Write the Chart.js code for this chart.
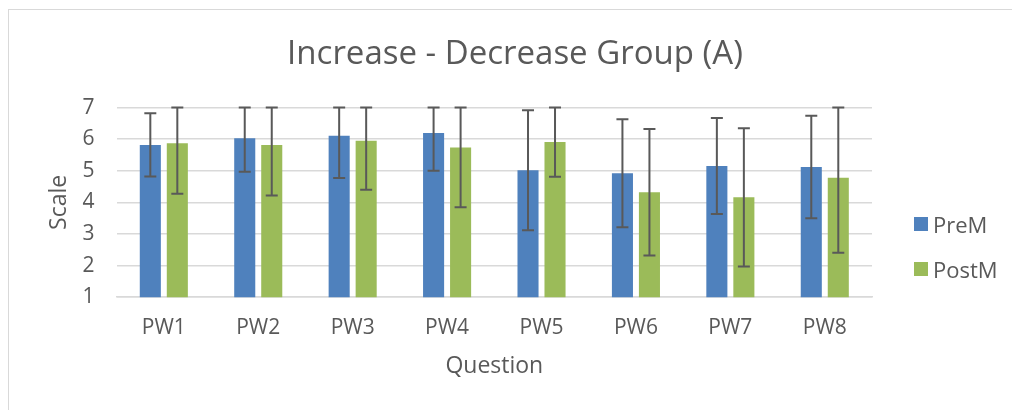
<!DOCTYPE html>
<html>
<head>
<meta charset="utf-8">
<script src="https://cdn.jsdelivr.net/npm/chart.js@4.4.1/dist/chart.umd.min.js"></script>
<style>
  html, body { margin: 0; padding: 0; background: #fff; overflow: hidden; }
  #frame { position: absolute; left: 8px; top: 9px; width: 1100px; height: 500px; border: 1px solid #d9d9d9; }
  #wrap { position: absolute; left: 0; top: 0; width: 1012px; height: 410px; }
  #legend { position: absolute; left: 914px; top: 211px; font: 22px "Open Sans", sans-serif; color: #595959; }
  #legend div { height: 45px; display: flex; align-items: flex-start; }
  #legend span.box { display: inline-block; width: 14px; height: 14px; margin: 6px 5px 0 0; }
  #legend span.txt { line-height: 26px; }
</style>
</head>
<body>
<div id="frame"></div>
<div id="wrap"><canvas id="myChart" width="1012" height="410"></canvas></div>
<div id="legend"></div>
<script>
"use strict";

// ========== DATA ==========
var questions = ["PW1", "PW2", "PW3", "PW4", "PW5", "PW6", "PW7", "PW8"];
var preM = [5.82, 6.03, 6.11, 6.20, 5.02, 4.92, 5.15, 5.12];
var preSd = [1.00, 1.06, 1.34, 1.20, 1.90, 1.71, 1.52, 1.62];
var postM = [5.87, 5.82, 5.95, 5.74, 5.91, 4.32, 4.16, 4.78];
var postSd = [1.60, 1.60, 1.55, 1.89, 1.10, 2.00, 2.19, 2.37];
var yTicks = [1, 2, 3, 4, 5, 6, 7];

var textColor = "#595959";
var fontName = "'Open Sans', sans-serif";

// ========== ERROR BARS ==========
var errorBars = {
  id: "errorBars",
  afterDatasetsDraw(chart) {
    const ctx = chart.ctx;
    const y = chart.scales.y;
    ctx.save();
    ctx.strokeStyle = "#595959";
    ctx.lineWidth = 2;
    chart.data.datasets.forEach((ds, di) => {
      const meta = chart.getDatasetMeta(di);
      meta.data.forEach((bar, i) => {
        const v = ds.data[i], sd = ds.sd[i];
        const hi = y.getPixelForValue(Math.min(v + sd, y.max));
        const lo = y.getPixelForValue(Math.max(v - sd, y.min));
        ctx.beginPath();
        ctx.moveTo(bar.x, hi); ctx.lineTo(bar.x, lo);
        ctx.moveTo(bar.x - 6, hi); ctx.lineTo(bar.x + 6, hi);
        ctx.moveTo(bar.x - 6, lo); ctx.lineTo(bar.x + 6, lo);
        ctx.stroke();
      });
    });
    ctx.restore();
  }
};

// ========== CHART ==========
var chartCanvas = document.getElementById("myChart");
var chart = new Chart(chartCanvas.getContext("2d"), {
  type: "bar",
  data: {
    labels: questions,
    datasets: [
      { label: "PreM", data: preM, sd: preSd, backgroundColor: "#4f81bd" },
      { label: "PostM", data: postM, sd: postSd, backgroundColor: "#9bbb59" }
    ]
  },
  options: {
    responsive: false,
    animation: false,
    categoryPercentage: 0.572,
    barPercentage: 0.78,
    layout: { padding: { left: 18, right: 0, top: 0, bottom: 0 } },
    plugins: {
      legend: { display: false },
      tooltip: { enabled: false },
      title: {
        display: true,
        text: "Increase - Decrease Group (A)",
        color: textColor,
        font: { family: fontName, size: 33, weight: "normal" },
        padding: { top: 35, bottom: 33 }
      }
    },
    scales: {
      x: {
        grid: { display: false, drawTicks: false },
        border: { color: "#d9d9d9", width: 1.5 },
        ticks: { color: textColor, font: { family: fontName, size: 21 }, padding: 18 },
        title: {
          display: true, text: "Question", color: textColor,
          font: { family: fontName, size: 23 }, padding: { top: -6, bottom: 30 }
        }
      },
      y: {
        min: 1,
        max: 7,
        afterBuildTicks: scale => { scale.ticks = yTicks.map(v => ({ value: v })); },
        grid: { color: "#d9d9d9", lineWidth: 1.5, drawTicks: false },
        border: { display: false },
        ticks: { color: textColor, font: { family: fontName, size: 21 }, padding: 22 },
        title: {
          display: true, text: "Scale", color: textColor,
          font: { family: fontName, size: 23 }, padding: { top: 28, bottom: -13 }
        }
      },
      y2: {
        position: "right",
        min: 1,
        max: 7,
        grid: { display: false, drawTicks: false },
        border: { display: false },
        ticks: { display: false },
        afterFit: scale => { scale.width = 140; }
      }
    }
  },
  plugins: [errorBars]
});

// ========== LEGEND ==========
var legendEl = document.getElementById("legend");
chart.data.datasets.forEach(ds => {
  var row = document.createElement("div");
  row.innerHTML = '<span class="box" style="background:' + ds.backgroundColor + '"></span><span class="txt">' + ds.label + "</span>";
  legendEl.appendChild(row);
});
</script>
</body>
</html>
